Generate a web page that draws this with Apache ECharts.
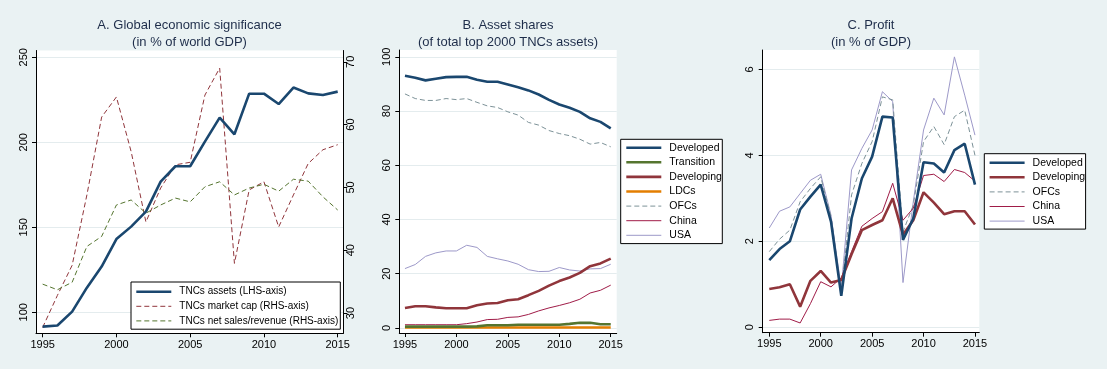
<!DOCTYPE html>
<html><head><meta charset="utf-8">
<script src="https://cdn.jsdelivr.net/npm/echarts@6/dist/echarts.min.js"></script>
<style>html,body{margin:0;padding:0;background:#eaf2f3}#c{width:1107px;height:369px}</style>
</head><body><div id="c"></div>
<script>
// ---------- data ----------
const years = [1995,1996,1997,1998,1999,2000,2001,2002,2003,2004,2005,2006,2007,2008,2009,2010,2011,2012,2013,2014,2015];
const yearTicks = [1995,2000,2005,2010,2015];

// Panel A: Global economic significance (% of world GDP)
const aAssets    = [91.6,92.2,100.4,114.5,126.9,143.1,150.4,159.2,176.9,185.9,185.9,200.4,214.5,204.7,228.6,228.6,222.5,232.2,228.8,227.8,229.8];
const aMarketCap = [27.7,32.8,37.6,48.8,61.2,64.4,55.7,44.5,49.9,53.6,54.0,64.7,69.0,37.9,49.6,50.9,43.7,48.8,53.8,56.0,56.8];
const aNetSales  = [34.6,33.7,34.9,40.6,42.2,47.2,48.0,45.9,47.2,48.3,47.7,50.1,50.9,48.8,49.9,50.5,49.4,51.3,51.0,48.5,46.4];
const aLeftTicks  = [100,150,200,250];
const aRightTicks = [30,40,50,60,70];

// Panel B: Asset shares (% of total top 2000 TNCs assets)
const bDeveloped  = [93.0,92.3,91.3,91.9,92.5,92.6,92.6,91.5,90.8,90.8,89.8,88.8,87.6,86.1,84.1,82.4,81.2,79.7,77.3,76.0,73.6];
const bTransition = [0.5,0.5,0.5,0.5,0.5,0.5,0.5,0.6,1.0,1.0,1.0,1.2,1.2,1.2,1.2,1.2,1.5,1.9,1.9,1.4,1.4];
const bDeveloping = [7.4,8.0,8.0,7.6,7.3,7.3,7.3,8.4,9.0,9.2,10.2,10.6,12.1,13.7,15.6,17.3,18.6,20.3,22.8,23.8,25.6];
const bLDCs       = [0.2,0.2,0.2,0.2,0.2,0.2,0.2,0.2,0.2,0.2,0.2,0.2,0.2,0.2,0.2,0.2,0.2,0.2,0.2,0.2,0.2];
const bOFCs       = [86.3,84.6,83.9,83.9,84.6,84.2,84.6,83.2,81.9,81.3,79.7,78.5,75.8,74.8,72.8,71.7,70.9,69.6,67.8,68.4,66.8];
const bChina      = [1.2,1.2,1.2,1.2,1.2,1.2,1.6,2.2,3.1,3.2,3.9,4.1,5.0,6.3,7.4,8.3,9.3,10.6,12.9,13.9,15.8];
const bUSA        = [21.9,23.4,26.4,27.7,28.4,28.4,30.5,29.7,26.4,25.5,24.7,23.5,21.5,20.8,20.9,22.3,21.4,21.0,21.8,21.9,23.5];
const bTicks = [0,20,40,60,80,100];

// Panel C: Profit (% of GDP)
const cDeveloped  = [1.56,1.82,2.00,2.74,3.04,3.32,2.46,0.73,2.53,3.46,3.97,4.90,4.88,2.03,2.53,3.84,3.81,3.60,4.12,4.27,3.32];
const cDeveloping = [0.89,0.93,1.00,0.48,1.08,1.31,1.04,1.10,1.70,2.26,2.38,2.49,3.00,2.15,2.49,3.14,2.90,2.63,2.70,2.70,2.39];
const cOFCs       = [1.76,2.05,2.26,2.92,3.23,3.50,2.57,0.83,3.08,3.81,4.32,5.36,5.29,2.22,2.84,4.32,4.67,4.25,4.90,5.05,4.00];
const cChina      = [0.16,0.19,0.19,0.10,0.55,1.06,0.94,1.15,1.76,2.35,2.53,2.69,3.35,2.49,2.77,3.53,3.56,3.39,3.67,3.60,3.40];
const cUSA        = [2.31,2.70,2.80,3.11,3.42,3.56,2.61,0.91,3.66,4.16,4.59,5.48,5.25,1.04,2.92,4.59,5.33,4.94,6.29,5.40,4.47];
const cTicks = [0,2,4,6];

// ---------- style ----------
const C = {navy:'#1a476f', maroon:'#90353b', green:'#55752f', orange:'#e37e00', ofc:'#7d9298', china:'#a01c48', usa:'#9d99c9'};
const FONT = 'Liberation Sans, Arial, sans-serif';
const THICK = 2.6, THIN = 1;
const pairs = arr => years.map((y,i)=>[y,arr[i]]);

function xAx(grid, min, max){
  return {type:'value', gridIndex:grid, min, max,
    axisLine:{show:true, onZero:false, lineStyle:{color:'#000', width:1}},
    axisTick:{show:true, customValues:yearTicks, length:4, lineStyle:{color:'#000'}},
    axisLabel:{customValues:yearTicks, formatter:v=>String(v), color:'#000', fontFamily:FONT, fontSize:11, margin:6},
    splitLine:{show:false}};
}
function yAx(grid, min, max, ticks, pos){
  return {type:'value', gridIndex:grid, min, max, position:pos||'left',
    axisLine:{show:true, onZero:false, lineStyle:{color:'#000', width:1}},
    axisTick:{show:true, customValues:ticks, length:4, lineStyle:{color:'#000'}},
    axisLabel:{customValues:ticks, rotate:90, formatter:v=>String(v), color:'#000', fontFamily:FONT, fontSize:11, margin:pos==='right'?2:7},
    splitLine:{show:pos!=='right', customValues:ticks, lineStyle:{color:'#e4ecee', width:1}}};
}
function line(name, data, xi, yi, color, width, dashed){
  return {type:'line', name, data:pairs(data), xAxisIndex:xi, yAxisIndex:yi, symbol:'none', showSymbol:false,
    lineStyle:{color, width, type: dashed ? [5,3] : 'solid'}, itemStyle:{color}, emphasis:{disabled:true}, z: width>2?3:2};
}
function title(x, t1, t2){
  return {text:t1+'\n'+t2, left:x, top:17.5, textAlign:'center', padding:0,
    textStyle:{color:'#1e2d4a', fontFamily:FONT, fontSize:13, fontWeight:'normal', lineHeight:16.5}};
}
// legend entries: [name, width]
function legend(entries, left, top, textW, fs, pad){
  return {data:entries.map(([n,w])=>({name:n, lineStyle:{width:w}})), orient:'vertical', left, top, itemWidth:35, itemHeight:14.6, itemGap:0,
    padding:pad, backgroundColor:'#fff', borderColor:'#000', borderWidth:1, borderRadius:0,
    selectedMode:false, itemStyle:{opacity:0, borderWidth:0},
    textStyle:{color:'#000', fontFamily:FONT, fontSize:fs, lineHeight:14.6, width:textW, overflow:'none', padding:[0,0,0,3]}};
}

const option = {
  animation:false,
  backgroundColor:'#eaf2f3',
  title:[
    title(189.5,'A. Global economic significance','(in % of world GDP)'),
    title(508,'B. Asset shares','(of total top 2000 TNCs assets)'),
    title(871,'C. Profit','(in % of GDP)')
  ],
  grid:[
    {left:36, top:50.5, width:307.3, height:282.8, show:true, backgroundColor:'#fff', borderWidth:0},
    {left:399.3, top:50, width:217.4, height:283, show:true, backgroundColor:'#fff', borderWidth:0},
    {left:762.7, top:50, width:216.6, height:282.7, show:true, backgroundColor:'#fff', borderWidth:0}
  ],
  xAxis:[ xAx(0,1994.55,2015.38), xAx(1,1994.45,2015.58), xAx(2,1994.36,2015.42) ],
  yAxis:[
    yAx(0,87.65,254.0,aLeftTicks,'left'),
    yAx(0,26.77,71.8,aRightTicks,'right'),
    yAx(1,-1.85,102.5,bTicks,'left'),
    yAx(2,-0.126,6.45,cTicks,'left')
  ],
  legend:[
    legend([['TNCs assets (LHS-axis)',THICK],['TNCs market cap (RHS-axis)',THIN],['TNCs net sales/revenue (RHS-axis)',THIN]],131,282,161,10,[2.4,0,1,4]),
    legend([['Developed',THICK],['Transition',THICK],['Developing',THICK],['LDCs',THICK],['OFCs',THIN],['China',THIN],['USA',THIN]],620.7,139.3,53,10.5,[1.1,0,1,4.3]),
    legend([['Developed',THICK],['Developing',THICK],['OFCs',THIN],['China',THIN],['USA',THIN]],984.3,153.7,53,10.5,[1.7,0,0.7,4])
  ],
  series:[
    line('TNCs market cap (RHS-axis)', aMarketCap, 0,1, C.maroon, THIN, true),
    line('TNCs net sales/revenue (RHS-axis)', aNetSales, 0,1, C.green, THIN, true),
    line('TNCs assets (LHS-axis)', aAssets, 0,0, C.navy, THICK, false),

    line('USA', bUSA, 1,2, C.usa, THIN, false),
    line('OFCs', bOFCs, 1,2, C.ofc, THIN, true),
    line('China', bChina, 1,2, C.china, THIN, false),
    line('LDCs', bLDCs, 1,2, C.orange, THICK, false),
    line('Transition', bTransition, 1,2, C.green, THICK, false),
    line('Developing', bDeveloping, 1,2, C.maroon, THICK, false),
    line('Developed', bDeveloped, 1,2, C.navy, THICK, false),

    line('USA', cUSA, 2,3, C.usa, THIN, false),
    line('OFCs', cOFCs, 2,3, C.ofc, THIN, true),
    line('China', cChina, 2,3, C.china, THIN, false),
    line('Developing', cDeveloping, 2,3, C.maroon, THICK, false),
    line('Developed', cDeveloped, 2,3, C.navy, THICK, false)
  ]
};
const chart = echarts.init(document.getElementById('c'), null, {renderer:'canvas'});
chart.setOption(option);
</script>
</body></html>
